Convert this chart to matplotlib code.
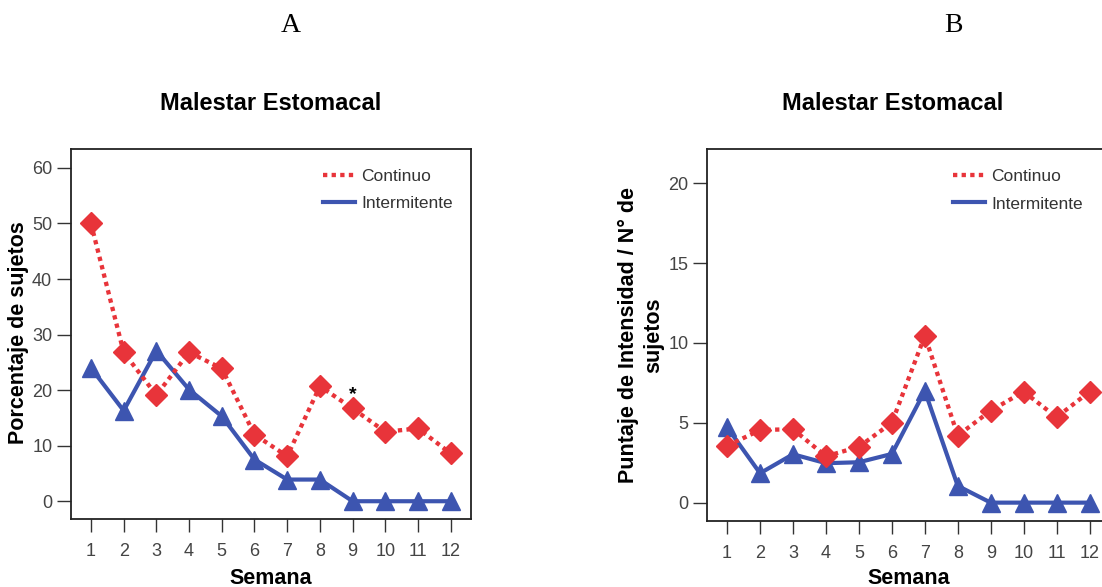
import matplotlib.pyplot as plt
from matplotlib.lines import Line2D

semanas = list(range(1, 13))

# panel A: porcentaje de sujetos
a_continuo = [50.0, 26.8, 19.1, 26.8, 23.9, 12.0, 8.1, 20.7, 16.7, 12.5, 13.1, 8.6]
a_intermitente = [24.0, 16.3, 27.1, 20.1, 15.3, 7.5, 3.9, 3.9, 0, 0, 0, 0]
a_yticks = [0, 10, 20, 30, 40, 50, 60]

# panel B: puntaje de intensidad / N de sujetos
b_continuo = [3.55, 4.55, 4.6, 2.9, 3.5, 5.0, 10.46, 4.2, 5.76, 6.95, 5.35, 6.95]
b_intermitente = [4.72, 1.84, 3.03, 2.47, 2.53, 3.05, 7.0, 1.05, 0, 0, 0, 0]
b_yticks = [0, 5, 10, 15, 20]

RED = '#e8343a'
BLUE = '#3d55b0'
W, H = 1102, 587

plt.rcParams['font.family'] = ['Liberation Sans', 'DejaVu Sans']

fig = plt.figure(figsize=(W / 100, H / 100), dpi=100)


def px_axes(x0, y0, x1, y1):
    # pixel box (top-left origin) -> figure fraction
    return fig.add_axes([x0 / W, 1 - y1 / H, (x1 - x0) / W, (y1 - y0) / H])


def panel(ax, cont, inter, yticks, ylim, leg_x):
    ax.plot(semanas, cont, color=RED, lw=3.1, ls=(0, (1, 1)),
            marker='D', ms=11, mec=RED, mfc=RED, zorder=3)
    ax.plot(semanas, inter, color=BLUE, lw=3.0, ls='-',
            marker='^', ms=13.5, mec=BLUE, mfc=BLUE, zorder=2)
    ax.set_xlim(0.39, 12.62)
    ax.set_ylim(*ylim)
    ax.set_xticks(semanas)
    ax.set_yticks(yticks)
    ax.tick_params(axis='both', direction='out', length=9, width=1.0,
                   color='#333333', labelcolor='#444444', labelsize=13)
    ax.tick_params(axis='x', pad=8)
    ax.tick_params(axis='y', length=10, pad=3.5)
    for s in ax.spines.values():
        s.set_linewidth(1.3)
        s.set_color('#222222')
    ax.set_xlabel('Semana', fontsize=15.5, fontweight='bold', va='top')
    handles = [Line2D([], [], color=RED, lw=3.1, ls=(0, (1, 1))),
               Line2D([], [], color=BLUE, lw=3.0)]
    leg = ax.legend(handles, ['Continuo', 'Intermitente'], loc='upper left',
                    frameon=False, fontsize=12.5, handlelength=1.85,
                    handletextpad=0.35, labelspacing=0.72, borderpad=0,
                    borderaxespad=0, bbox_to_anchor=(leg_x, 0.947))
    for t in leg.get_texts():
        t.set_color('#333333')


ax_a = px_axes(71, 149, 471, 519)
panel(ax_a, a_continuo, a_intermitente, a_yticks, (-3.2, 63.4), 0.63)
ax_a.set_ylabel('Porcentaje de sujetos', fontsize=15.5, fontweight='bold', va='center')
ax_a.yaxis.set_label_coords(-0.13, 0.503)
ax_a.xaxis.set_label_coords(0.5, -0.133)
ax_a.text(semanas[8], a_continuo[8] + 1.0, '*', ha='center', va='bottom',
          fontsize=14, fontweight='bold')

ax_b = px_axes(707, 149, 1110, 521)
panel(ax_b, b_continuo, b_intermitente, b_yticks, (-1.15, 22.15), 0.61)
ax_b.set_ylabel('Puntaje de Intensidad / N° de\nsujetos', fontsize=15.5,
                fontweight='bold', va='center', linespacing=1.3)
ax_b.yaxis.set_label_coords(-0.164, 0.5)
ax_b.xaxis.set_label_coords(0.5, -0.127)
ax_b.spines['right'].set_visible(False)

fig.text(271 / W, 1 - 103 / H, 'Malestar Estomacal', ha='center', va='center',
         fontsize=17, fontweight='bold')
fig.text(893 / W, 1 - 103 / H, 'Malestar Estomacal', ha='center', va='center',
         fontsize=17, fontweight='bold')
fig.text(291 / W, 1 - 26 / H, 'A', ha='center', va='center', fontsize=20,
         family='Liberation Serif')
fig.text(953 / W, 1 - 26 / H, 'B', ha='center', va='center', fontsize=20,
         family='Liberation Serif')

fig.savefig('out.png', dpi=100)
